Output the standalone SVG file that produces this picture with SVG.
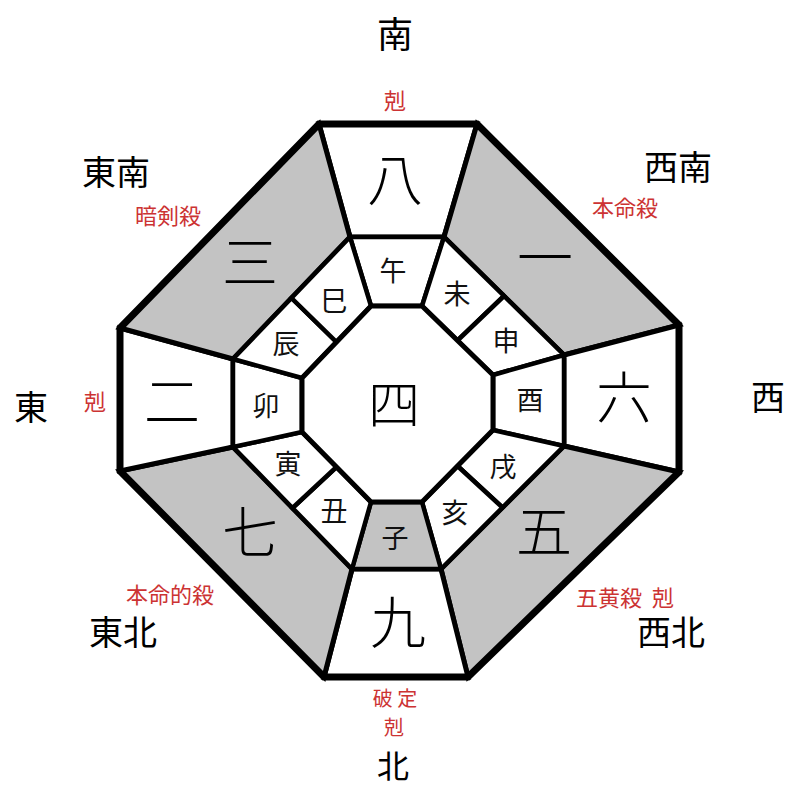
<svg xmlns="http://www.w3.org/2000/svg" width="800" height="800" viewBox="0 0 800 800">
<style>
.w{fill:#ffffff;stroke:#000;stroke-width:5;stroke-linejoin:miter}
.g{fill:#c3c3c3;stroke:#000;stroke-width:5;stroke-linejoin:miter}
.c{fill:#ffffff;stroke:#000;stroke-width:4.5}
.cg{fill:#c3c3c3;stroke:#000;stroke-width:4.5}
text{font-family:"Noto Sans CJK JP","Noto Sans CJK SC",sans-serif;text-anchor:middle}
.dir{font-size:34px;fill:#000}
.red{font-size:22px;fill:#cc3333}
.num{font-size:56px;fill:#000;font-weight:300}
.zod{font-size:27px;fill:#111}
</style>
<rect width="800" height="800" fill="#fff"/>
<g id="outer-ring">
<g id="n-8"><polygon class="w" points="319,124 477,124 444,237 350,237"/><text class="num" x="395" y="200">八</text></g>
<g id="ne-1"><polygon class="g" points="477,124 679,325 564,355 444,237"/><text class="num" x="545" y="278">一</text></g>
<g id="e-6"><polygon class="w" points="679,325 679,472 564,446 564,355"/><text class="num" x="624" y="418">六</text></g>
<g id="se-5"><polygon class="g" points="679,472 468,677 441,569 564,446"/><text class="num" x="544" y="552">五</text></g>
<g id="s-9"><polygon class="w" points="468,677 324,677 352,569 441,569"/><text class="num" x="398" y="643">九</text></g>
<g id="sw-7"><polygon class="g" points="324,677 120,471 233,447 352,569"/><text class="num" x="250" y="553">七</text></g>
<g id="w-2"><polygon class="w" points="120,471 120,328 233,359 233,447"/><text class="num" x="172" y="422">二</text></g>
<g id="nw-3"><polygon class="g" points="120,328 319,124 350,237 233,359"/><text class="num" x="250" y="283">三</text></g>
</g>
<g id="zodiac-ring">
<g id="wu"><polygon class="c" points="350,237 444,237 422,306 371,306"/><text class="zod" x="393" y="281">午</text></g>
<g id="wei"><polygon class="c" points="444,237 504,296 457.5,340.5 422,306"/><text class="zod" x="457" y="304">未</text></g>
<g id="shen"><polygon class="c" points="504,296 564,355 493,375 457.5,340.5"/><text class="zod" x="506" y="351">申</text></g>
<g id="you"><polygon class="c" points="564,355 564,446 493,430 493,375"/><text class="zod" x="530" y="410">酉</text></g>
<g id="xu"><polygon class="c" points="564,446 502.5,507.5 457.5,466 493,430"/><text class="zod" x="503" y="477">戌</text></g>
<g id="hai"><polygon class="c" points="502.5,507.5 441,569 422,502 457.5,466"/><text class="zod" x="455" y="523">亥</text></g>
<g id="zi"><polygon class="cg" points="441,569 352,569 371,502 422,502"/><text class="zod" x="395" y="548">子</text></g>
<g id="chou"><polygon class="c" points="352,569 292.5,508 336.5,467 371,502"/><text class="zod" x="334" y="521">丑</text></g>
<g id="yin"><polygon class="c" points="292.5,508 233,447 302,432 336.5,467"/><text class="zod" x="288" y="474">寅</text></g>
<g id="mao"><polygon class="c" points="233,447 233,359 302,378 302,432"/><text class="zod" x="266" y="416">卯</text></g>
<g id="chen"><polygon class="c" points="233,359 291.5,298 336.5,342 302,378"/><text class="zod" x="286" y="354">辰</text></g>
<g id="si"><polygon class="c" points="291.5,298 350,237 371,306 336.5,342"/><text class="zod" x="334" y="311">巳</text></g>
</g>
<g id="center"><polygon fill="#fff" stroke="#000" stroke-width="5" points="371,306 422,306 493,375 493,430 422,502 371,502 302,432 302,378"/><text class="num" x="394" y="424" style="font-size:52px">四</text></g>
<g id="frame"><polygon fill="none" stroke="#000" stroke-width="7" stroke-linejoin="miter" points="319,124 477,124 679,325 679,472 468,677 324,677 120,471 120,328"/></g>
<g id="labels">
<text class="dir" x="395" y="48" style="font-size:36px">南</text>
<text class="red" x="395" y="109">剋</text>
<text class="dir" x="116" y="185">東南</text>
<text class="red" x="168" y="224">暗剣殺</text>
<text class="dir" x="678" y="180">西南</text>
<text class="red" x="625" y="216">本命殺</text>
<text class="dir" x="31" y="420">東</text>
<text class="red" x="95" y="410">剋</text>
<text class="dir" x="768" y="410">西</text>
<text class="red" x="170" y="603">本命的殺</text>
<text class="dir" x="123" y="645">東北</text>
<text class="red" x="625" y="606" xml:space="preserve">五黄殺  剋</text>
<text class="dir" x="671" y="645">西北</text>
<text class="red" x="395" y="706" style="font-size:20px" xml:space="preserve">破 定</text>
<text class="red" x="394" y="735" style="font-size:20px">剋</text>
<text class="dir" x="393" y="778" style="font-size:32px">北</text>
</g>
</svg>
